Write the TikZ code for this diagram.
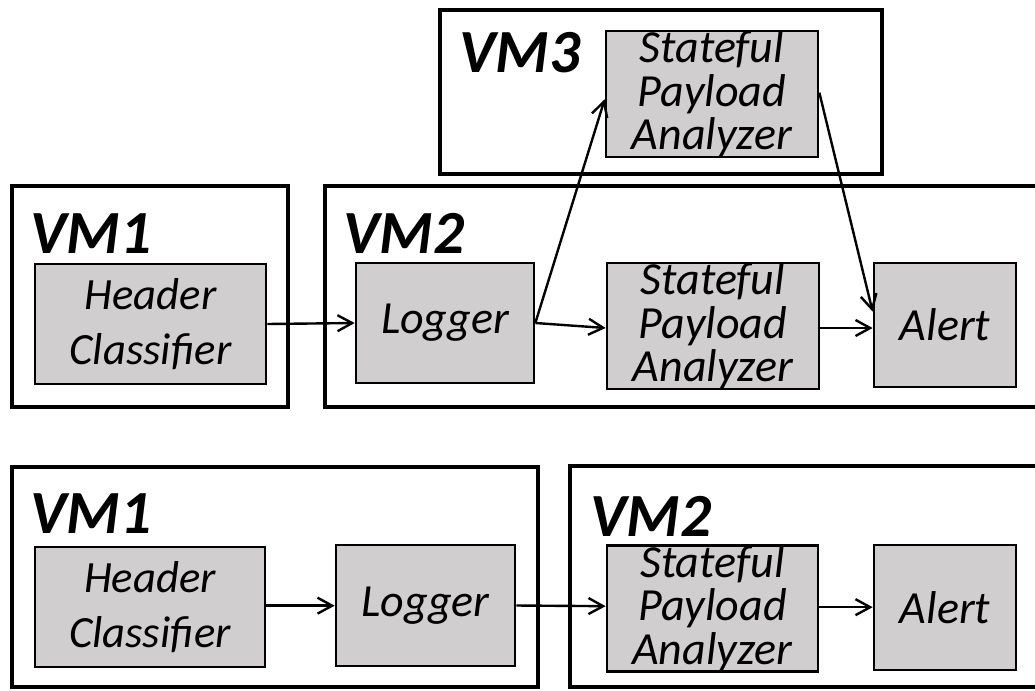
\documentclass[tikz,border=0pt]{standalone}
\usepackage{fontspec}
\setmainfont{Carlito}
\usetikzlibrary{arrows.meta}
\definecolor{boxgray}{HTML}{D0CECE}
\tikzset{
  vmbox/.style 2 args={draw, line width=3pt, minimum width=#1*0.75pt, minimum height=#2*0.75pt, inner sep=0pt},
  fbox/.style 2 args={draw, fill=boxgray, line width=2pt, minimum width=#1*0.75pt, minimum height=#2*0.75pt, inner sep=0pt, align=center, font=\fontsize{34.5pt}{32.5pt}\selectfont\itshape},
  hcfont/.style={font=\fontsize{33.5pt}{41pt}\selectfont\itshape},
  vmlabel/.style={anchor=base west, inner sep=0pt, font=\fontsize{46pt}{46pt}\selectfont\bfseries\itshape},
  conn/.style={line width=1.8pt, -{Straight Barb[length=11pt,width=12pt,line width=1.8pt]}}
}
\begin{document}
\begin{tikzpicture}[x=0.75pt,y=-0.75pt]
\useasboundingbox (0,0) rectangle (1035,690);
\clip (0,0) rectangle (1035,690);
% top row containers
\node[vmbox={276}{221}] (vm1t) at (150,296.5) {};
\node[vmbox={725}{221}] (vm2t) at (687.5,296.5) {};
\node[vmbox={442}{164}] (vm3) at (661,92) {};
\node[vmlabel] (vm1tl) at (30,253) {VM1};
\node[vmlabel] (vm2tl) at (343,253) {VM2};
\node[vmlabel] (vm3l) at (459,72) {VM3};
% top row functions
\node[fbox={231}{120}, hcfont] (hc1) at (150.5,324) {Header\\Classifier};
\node[fbox={178}{120}] (log1) at (445,323) {Logger};
\node[fbox={212}{122}] (spa1) at (713,326) {Stateful\\Payload\\Analyzer};
\node[fbox={142}{124}] (al1) at (945,325) {Alert};
\node[fbox={212}{122}] (spa3) at (712,94) {Stateful\\Payload\\Analyzer};
% bottom row containers
\node[vmbox={526}{220}] (vm1b) at (275,577) {};
\node[vmbox={480}{221}] (vm2b) at (810,576.5) {};
\node[vmlabel] (vm1bl) at (30,533) {VM1};
\node[vmlabel] (vm2bl) at (590,536) {VM2};
% bottom row functions
\node[fbox={230}{120}, hcfont] (hc2) at (150,607) {Header\\Classifier};
\node[fbox={179}{121}] (log2) at (425.5,605.5) {Logger};
\node[fbox={211}{123}] (spa2) at (712.5,608.5) {Stateful\\Payload\\Analyzer};
\node[fbox={142}{125}] (al2) at (945,607.5) {Alert};
% connectors top
\draw[conn] (hc1.east) -- (log1.west);
\draw[conn] (log1.east) -- ([yshift=-1.5pt]spa1.west);
\draw[conn] ([yshift=-1.5pt]spa1.east) -- ([yshift=-1.5pt]spa1.east -| al1.west);
\draw[conn] (log1.east) -- ([yshift=-4pt]spa3.west);
\draw[conn] ([yshift=1pt]spa3.east) -- ([yshift=10pt]al1.west);
% connectors bottom
\draw[conn] ([yshift=1pt]hc2.east) -- ([yshift=1pt]hc2.east -| log2.west);
\draw[conn] (log2.east) -- ([yshift=-0.5pt]log2.east -| spa2.west);
\draw[conn] ([yshift=1pt]spa2.east) -- ([yshift=1pt]spa2.east -| al2.west);
\end{tikzpicture}
\end{document}
